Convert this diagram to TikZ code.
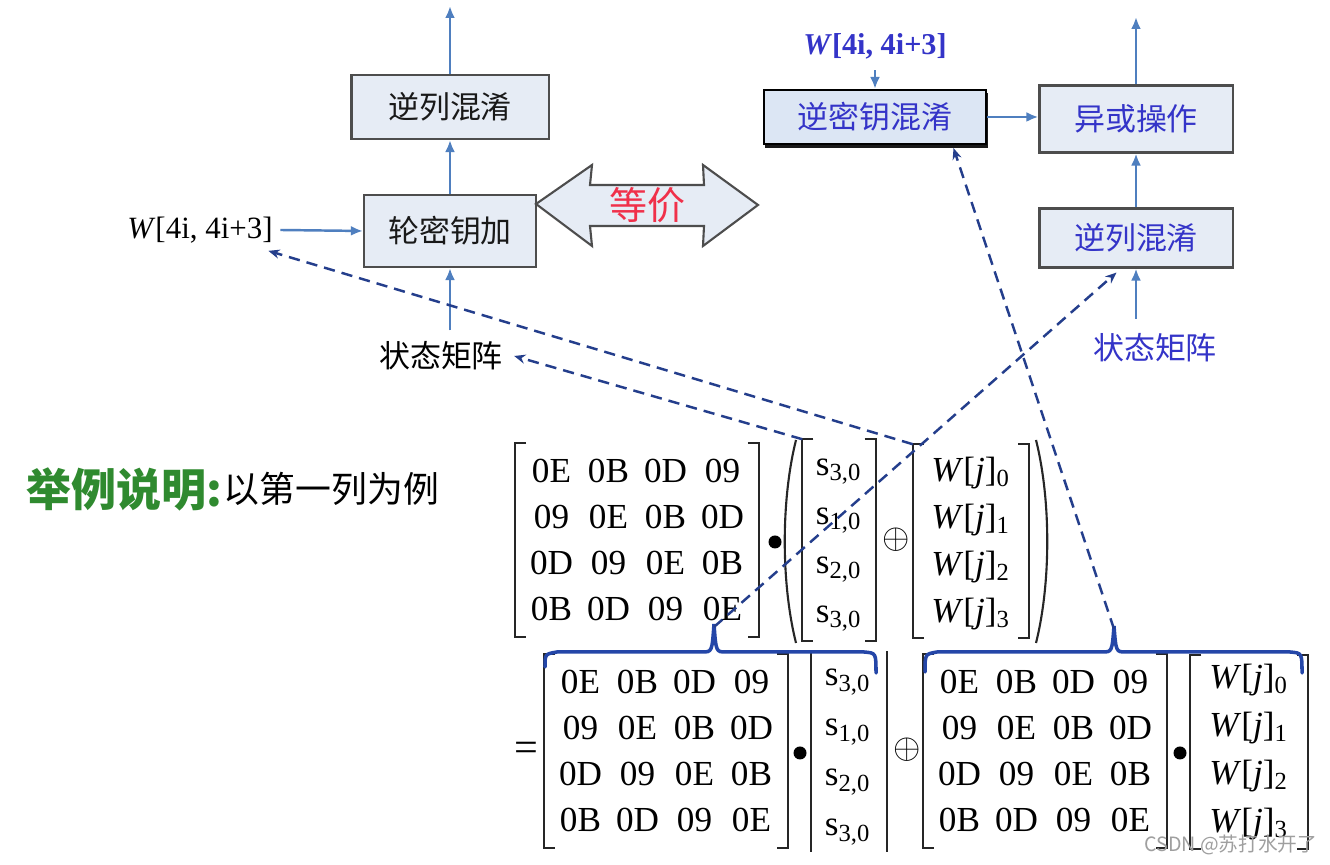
\documentclass[tikz,border=0pt]{standalone}
\usepackage{fontspec}
\setmainfont{Liberation Serif}
\newfontfamily\cjk{Noto Sans CJK SC}
\usetikzlibrary{arrows.meta,shadows,calc}

\definecolor{boxfill}{HTML}{E6ECF5}
\definecolor{boxline}{HTML}{4D4D4D}
\definecolor{keyfill}{HTML}{DCE6F4}
\definecolor{flowblue}{HTML}{4F7FBF}
\definecolor{linkblue}{HTML}{243E8C}
\definecolor{braceblue}{HTML}{2446A8}
\definecolor{txtblue}{HTML}{3434C8}
\definecolor{eqred}{HTML}{F0304A}
\definecolor{notegreen}{HTML}{2F8A2F}

\tikzset{
  opbox/.style={draw=boxline, fill=boxfill, line width=0.6pt, inner sep=0pt,
    font=\cjk\fontsize{8.8}{10}\selectfont, text=black!90},
  flow/.style={-{Latex[length=3.4pt,width=2.8pt]}, draw=flowblue, line width=0.7pt},
  link/.style={-{Stealth[length=3.2pt,width=2.6pt]}, draw=linkblue, line width=0.7pt,
    dash pattern=on 3.2pt off 2pt},
  hexcell/.style={inner sep=0pt, font=\fontsize{10}{10}\selectfont},
  vcell/.style={inner sep=0pt, font=\fontsize{10}{10}\selectfont},
  frame/.style={inner sep=0pt},
  brk/.style={draw=black!85, line width=0.5pt},
  bracepath/.style={draw=braceblue, line width=1pt, line cap=round},
  paren/.style={draw=black!85, line width=0.6pt},
  dotop/.style={circle, fill=black, inner sep=0pt, minimum size=0.13cm},
  eqarrow/.style={draw=boxline, fill=boxfill, line width=0.6pt, line join=miter},
}

% square brackets round a frame node
\newcommand{\sqbr}[1]{%
  \draw[brk] ([xshift=0.11cm]#1.north west) -- (#1.north west) -- (#1.south west) -- ([xshift=0.11cm]#1.south west);
  \draw[brk] ([xshift=-0.11cm]#1.north east) -- (#1.north east) -- (#1.south east) -- ([xshift=-0.11cm]#1.south east);}

% 4x4 matrix of the inverse mix
\newcommand{\hexmat}[3]{%
  \node[frame, minimum width=2.42cm, minimum height=1.92cm] (#1) at (#2,#3) {};
  \foreach \ri/\ea/\eb/\ec/\ed in {1/0E/0B/0D/09,2/09/0E/0B/0D,3/0D/09/0E/0B,4/0B/0D/09/0E}{
    \foreach \ci/\et in {1/\ea,2/\eb,3/\ec,4/\ed}{
      \node[hexcell] (#1-\ri-\ci) at ({#2+(\ci-2.5)*57},{#3+(\ri-2.5)*46}) {\et};}}
  \sqbr{#1}}

\begin{document}
\begin{tikzpicture}[x=0.01cm, y=-0.01cm, >=Stealth]
\useasboundingbox (0,0) rectangle (1330,865);
\fill[white] (0,0) rectangle (1330,865);

% ---- left flow ----
\node[opbox, minimum width=1.97cm, minimum height=0.64cm] (cm1) at (450,107) {逆列混淆};
\node[opbox, minimum width=1.72cm, minimum height=0.72cm] (ark) at (450,231) {轮密钥加};
\node[inner sep=2pt, font=\fontsize{8.8}{10}\selectfont] (wl) at (200,230) {\textit{W}[4i, 4i+3]};
\node[font=\cjk\fontsize{8.8}{10}\selectfont, inner sep=3pt] (stl) at (441,356) {状态矩阵};
\coordinate (outl) at (450,6);
\draw[flow] (cm1.north) -- (outl);
\draw[flow] (ark.north) -- (cm1.south);
\draw[flow] (wl.east) -- (ark.west);
\draw[flow] (stl.north -| ark.south) -- (ark.south);

% ---- equivalent ----
\draw[eqarrow] (536,204) -- (592,165) -- (590,185) -- (704,185) -- (703,165) -- (758,205)
  -- (703,246) -- (704,226) -- (590,226) -- (592,246) -- cycle;
\node[text=eqred, font=\cjk\fontsize{10.8}{12}\selectfont] (eqv) at (647,205) {等价};

% ---- right flow ----
\node[font=\bfseries\fontsize{8.6}{10}\selectfont, text=txtblue, inner sep=3pt] (wr) at (875,46) {\textit{W}[4i, 4i+3]};
\node[opbox, fill=keyfill, draw=black, text=txtblue, minimum width=2.22cm, minimum height=0.54cm,
  drop shadow={shadow xshift=0.015cm, shadow yshift=-0.035cm, fill=black, opacity=0.9}] (ikm) at (875,117) {逆密钥混淆};
\node[opbox, text=txtblue, minimum width=1.93cm, minimum height=0.67cm] (xor) at (1136,119) {异或操作};
\node[opbox, text=txtblue, minimum width=1.93cm, minimum height=0.59cm] (cm2) at (1136,238) {逆列混淆};
\node[font=\cjk\fontsize{8.8}{10}\selectfont, text=txtblue, inner sep=4pt] (str) at (1155,348) {状态矩阵};
\coordinate (outr) at (1136,17);
\draw[flow] (wr.south -| ikm.north) -- (ikm.north);
\draw[flow] (ikm.east) -- (ikm.east -| xor.west);
\draw[flow] (xor.north) -- (outr);
\draw[flow] (cm2.north) -- (xor.south);
\draw[flow] (str.north -| cm2.south) -- (cm2.south);

% ---- example ----
\node[anchor=west, inner sep=0pt, text=notegreen, font=\cjk\bfseries\fontsize{12.8}{14}\selectfont] (ex) at (26,489) {举例说明:};
\node[anchor=west, inner sep=0pt, font=\cjk\fontsize{10.2}{12}\selectfont] (exc) at (ex.east) {以第一列为例};

% ---- first line ----
\hexmat{m1}{637}{540}
\node[dotop] (b1) at (775,542) {};
\draw[paren] (796,440) .. controls (781,500) and (781,583) .. (796,643);
\node[frame, minimum width=0.72cm, minimum height=2.0cm] (s1) at (839,540) {};
\foreach \ri/\sbx in {1/{3,0},2/{1,0},3/{2,0},4/{3,0}}{
  \node[vcell] (s1-\ri) at (839,{545+(\ri-2.5)*49}) {s\textsubscript{\sbx}};}
\sqbr{s1}
\node[font=\fontsize{10}{10}\selectfont, inner sep=0pt] (o1) at (896,540) {$\oplus$};
\node[frame, minimum width=1.15cm, minimum height=1.92cm] (w1) at (971,541) {};
\foreach \ri in {0,...,3}{
  \node[vcell] (w1-\ri) at (971,{473+\ri*47}) {\textit{W}[\textit{j}]\textsubscript{\ri}};}
\sqbr{w1}
\draw[paren] (1036,440) .. controls (1051,500) and (1051,583) .. (1036,643);

% ---- second line ----
\begin{scope}
\clip (0,0) rectangle (1330,852);
\node[font=\fontsize{12}{12}\selectfont, inner sep=0pt] (eqs) at (526,752) {=};
\hexmat{m2}{666}{751}
\node[dotop] (b2) at (800,753) {};
\node[frame, minimum width=0.74cm, minimum height=2.2cm] (s2) at (849,762) {};
\draw[brk] (s2.north west) -- (s2.south west);
\draw[brk] (s2.north east) -- (s2.south east);
\foreach \ri/\sbx in {1/{3,0},2/{1,0},3/{2,0},4/{3,0}}{
  \node[vcell] (s2-\ri) at (848,{632+\ri*50}) {s\textsubscript{\sbx}};}
\node[font=\fontsize{10}{10}\selectfont, inner sep=0pt] (o2) at (907,750) {$\oplus$};
\hexmat{m3}{1045}{751}
\node[dotop] (b3) at (1180,753) {};
\node[frame, minimum width=1.16cm, minimum height=1.92cm] (w2) at (1249,752) {};
\foreach \ri in {0,...,3}{
  \node[vcell] (w2-\ri) at (1249,{680+\ri*48}) {\textit{W}[\textit{j}]\textsubscript{\ri}};}
\sqbr{w2}
\end{scope}

% ---- braces ----
\draw[bracepath] (545,667) .. controls (545,654) .. (557,652) -- (702,652)
  .. controls (712,652) .. (714,624) .. controls (716,652) .. (726,652) -- (864,652)
  .. controls (876,653) .. (876,673);
\coordinate (bt1) at (714,627);
\draw[bracepath] (925,672) .. controls (925,654) .. (937,652) -- (1102,652)
  .. controls (1112,652) .. (1114,626) .. controls (1116,652) .. (1126,652) -- (1290,652)
  .. controls (1302,653) .. (1302,673);
\coordinate (bt2) at (1114,629);

% ---- links ----
\draw[link] (w1.north west) -- ([xshift=-0.12cm]wl.south east);
\draw[link] (s1.north west) -- (stl.east);
\draw[link] (bt1) -- ($(cm2.south west)!0.4!(cm2.south east)+(0,4)$);
\draw[link] (bt2) -- ($(ikm.south west)!0.85!(ikm.south east)+(0,3)$);

\node[anchor=east, inner sep=0pt, text=gray!75, font=\cjk\fontsize{5.6}{6}\selectfont] (wm) at (1318,845) {CSDN @苏打水开了};
\end{tikzpicture}
\end{document}
